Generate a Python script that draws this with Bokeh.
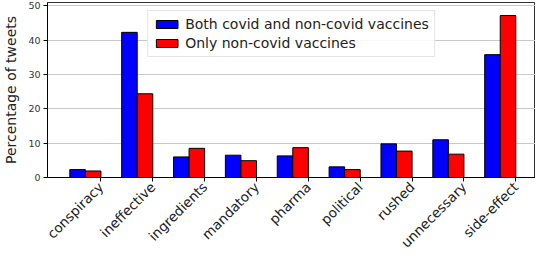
import math
from bokeh.plotting import figure
from bokeh.models import ColumnDataSource, FixedTicker, Range1d, Legend, LegendItem
from bokeh.embed import file_html
from bokeh.resources import INLINE

categories = ["conspiracy", "ineffective", "ingredients", "mandatory", "pharma",
              "political", "rushed", "unnecessary", "side-effect"]
both_vals = [2.3, 42.3, 6.0, 6.5, 6.3, 3.1, 9.8, 11.0, 35.8]
only_vals = [1.9, 24.4, 8.5, 4.9, 8.7, 2.3, 7.7, 6.8, 47.2]
series_names = ["Both covid and non-covid vaccines", "Only non-covid vaccines"]
y_ticks = [0, 10, 20, 30, 40, 50]

bar_w = 0.3
idx = list(range(len(categories)))
src_b = ColumnDataSource(dict(x=[i - 1.5 * bar_w for i in idx], top=both_vals))
src_o = ColumnDataSource(dict(x=[i - 0.5 * bar_w for i in idx], top=only_vals))

p = figure(width=535, height=259, output_backend="svg", toolbar_location=None,
           x_range=Range1d(-1.03, 8.38), y_range=Range1d(0, 51.0),
           min_border_left=47, min_border_right=0, min_border_top=2, min_border_bottom=70)

rb = p.vbar(x="x", top="top", width=bar_w, source=src_b, fill_color="#0000ff",
            line_color="black", line_width=1)
ro = p.vbar(x="x", top="top", width=bar_w, source=src_o, fill_color="#ff0000",
            line_color="black", line_width=1)

legend = Legend(items=[LegendItem(label=series_names[0], renderers=[rb]),
                       LegendItem(label=series_names[1], renderers=[ro])],
                location="top_center")
legend.label_text_font = "DejaVu Sans"
legend.label_text_font_size = "14px"
legend.label_text_color = "#222222"
legend.glyph_width = 27
legend.glyph_height = 10
legend.label_height = 16
legend.spacing = 3
legend.padding = 5
legend.margin = 8
legend.border_line_color = "#cccccc"
legend.background_fill_alpha = 0.85
p.add_layout(legend)

p.xaxis.ticker = FixedTicker(ticks=idx)
p.xaxis.major_label_overrides = {i: c for i, c in zip(idx, categories)}
p.xaxis.major_label_orientation = math.pi / 4
p.xaxis.major_label_text_font = "DejaVu Sans"
p.xaxis.major_label_text_font_size = "13.5px"
p.xaxis.major_label_text_color = "#222222"
p.xaxis.major_label_standoff = 3
p.xaxis.minor_tick_line_color = None

p.yaxis.ticker = FixedTicker(ticks=y_ticks)
p.yaxis.axis_label = "Percentage of tweets"
p.yaxis.axis_label_text_font = "DejaVu Sans"
p.yaxis.axis_label_text_font_size = "14px"
p.yaxis.axis_label_text_font_style = "normal"
p.yaxis.axis_label_text_color = "#222222"
p.yaxis.axis_label_standoff = 6
p.yaxis.major_label_text_font = "DejaVu Sans"
p.yaxis.major_label_text_font_size = "9.5px"
p.yaxis.major_label_text_color = "#333333"
p.yaxis.major_label_standoff = 3
p.yaxis.minor_tick_line_color = None

for ax in (p.xaxis, p.yaxis):
    ax.major_tick_out = 4
    ax.major_tick_in = 0
    ax.axis_line_color = "black"
    ax.major_tick_line_color = "black"

p.xgrid.grid_line_color = None
p.ygrid.grid_line_color = "#c8c8c8"
p.ygrid.grid_line_width = 1
p.outline_line_color = "#333333"
p.outline_line_width = 1

open("out.html", "w").write(file_html(p, INLINE))
